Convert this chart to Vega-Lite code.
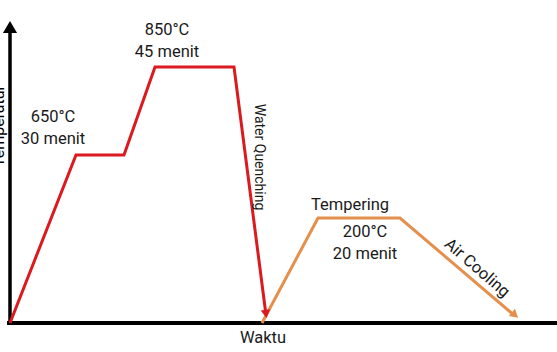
{
  "$schema": "https://vega.github.io/schema/vega-lite/v6.json",
  "autosize": "none",
  "width": 547,
  "height": 303,
  "padding": {"left": 10, "top": 20, "right": 0, "bottom": 29},
  "background": "white",
  "config": {"view": {"stroke": null}, "text": {"font": "Roboto", "fontSize": 16.5}},
  "datasets": {
    "curve": [
      {"series": "Hardening", "order": 1, "time": 0, "level": 0},
      {"series": "Hardening", "order": 2, "time": 66, "level": 168},
      {"series": "Hardening", "order": 3, "time": 114, "level": 168},
      {"series": "Hardening", "order": 4, "time": 145, "level": 256},
      {"series": "Hardening", "order": 5, "time": 224, "level": 256},
      {"series": "Hardening", "order": 6, "time": 256, "level": 8},
      {"series": "Tempering", "order": 1, "time": 252, "level": 0},
      {"series": "Tempering", "order": 2, "time": 308, "level": 105},
      {"series": "Tempering", "order": 3, "time": 390, "level": 105},
      {"series": "Tempering", "order": 4, "time": 505, "level": 7}
    ],
    "heads": [
      {"series": "Hardening", "time": 256, "level": 9, "dir": -7.5, "shape": "triangle-down"},
      {"series": "Tempering", "time": 505, "level": 8, "dir": 40.6, "shape": "triangle-right"}
    ],
    "labels": [
      {"label": "650°C\n30 menit", "time": 43, "level": 206, "align": "left", "size": 16.5, "angle": 0},
      {"label": "850°C\n45 menit", "time": 157, "level": 293, "align": "left", "size": 16.5, "angle": 0},
      {"label": "Tempering", "time": 340, "level": 118, "align": "center", "size": 16.5, "angle": 0},
      {"label": "200°C\n20 menit", "time": 355, "level": 91, "align": "center", "size": 16.5, "angle": 0},
      {"label": "Waktu", "time": 253, "level": -15, "align": "center", "size": 16.5, "angle": 0},
      {"label": "Water Quenching", "time": 249, "level": 166, "align": "center", "size": 14, "angle": 90},
      {"label": "Air Cooling", "time": 467, "level": 55, "align": "center", "size": 16.5, "angle": 41}
    ]
  },
  "encoding": {
    "x": {"field": "time", "type": "quantitative", "scale": {"domain": [0, 547], "nice": false, "zero": false}, "axis": null},
    "y": {"field": "level", "type": "quantitative", "scale": {"domain": [0, 303], "nice": false, "zero": false}, "axis": null}
  },
  "layer": [
    {
      "data": {"values": [{"time": -3, "x2": 547, "level": 0}]},
      "mark": {"type": "rule", "stroke": "black", "strokeWidth": 4},
      "encoding": {
        "x2": {"field": "x2"}
      }
    },
    {
      "data": {"values": [{"time": 0, "level": -2, "y2": 292}]},
      "mark": {"type": "rule", "stroke": "black", "strokeWidth": 3.5},
      "encoding": {
        "y2": {"field": "y2"}
      }
    },
    {
      "data": {"values": [{"time": 0, "level": 296}]},
      "mark": {"type": "point", "shape": "triangle-up", "filled": true, "fill": "black", "size": 200, "opacity": 1},
      "encoding": {}
    },
    {
      "data": {"values": [{"label": "Temperatur", "time": -6, "level": 197}]},
      "mark": {"type": "text", "angle": 270, "align": "center", "baseline": "alphabetic", "fontSize": 16, "color": "black"},
      "encoding": {
        "text": {"field": "label"}
      }
    },
    {
      "data": {"name": "curve"},
      "mark": {"type": "line", "strokeWidth": 3, "strokeJoin": "miter"},
      "encoding": {
        "order": {"field": "order"},
        "color": {"field": "series", "type": "nominal", "scale": {"domain": ["Hardening", "Tempering"], "range": ["#db1a1f", "#e58f4c"]}, "legend": null}
      }
    },
    {
      "data": {"name": "heads"},
      "mark": {"type": "point", "filled": true, "size": 90, "opacity": 1},
      "encoding": {
        "shape": {"field": "shape", "type": "nominal", "scale": null},
        "angle": {"field": "dir", "type": "quantitative", "scale": null},
        "color": {"field": "series", "type": "nominal", "legend": null}
      }
    },
    {
      "data": {"name": "labels"},
      "mark": {"type": "text", "baseline": "middle", "lineBreak": "\n", "lineHeight": 22, "color": "#1a1a1a"},
      "encoding": {
        "text": {"field": "label"},
        "align": {"field": "align", "type": "nominal", "scale": null},
        "size": {"field": "size", "type": "quantitative", "scale": null},
        "angle": {"field": "angle", "type": "quantitative", "scale": null}
      }
    }
  ]
}
